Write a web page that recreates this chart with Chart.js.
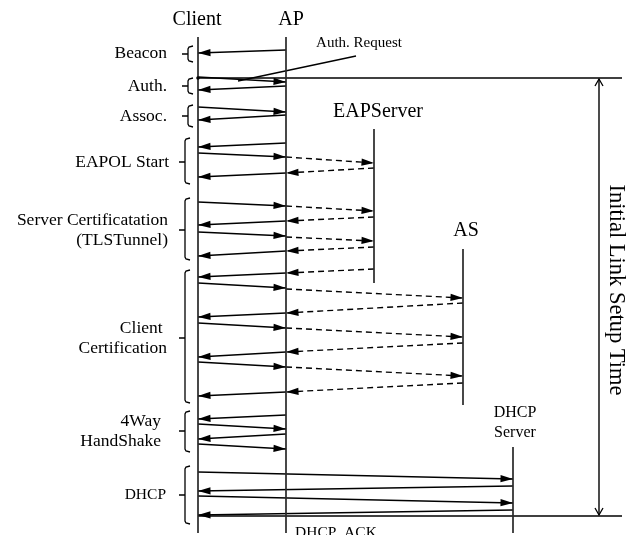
<!DOCTYPE html>
<html>
<head>
<meta charset="utf-8">
<script src="https://cdn.jsdelivr.net/npm/chart.js@4/dist/chart.umd.min.js"></script>
<style>
  html, body { margin: 0; padding: 0; background: #fff; }
  canvas { display: block; }
</style>
</head>
<body>
<canvas id="seq" width="633" height="535"></canvas>
<script>
// lifelines (x = column, start/end = time span)
const laneNames = ["Client", "AP", "EAPServer", "AS", "DHCP\nServer"]
const laneX = [198, 286, 374, 463, 513]
const laneStart = [37, 37, 129, 249, 447]
const laneEnd = [533, 533, 283, 405, 533]

// messages: from lane, to lane, send time, receive time, dashed
const msgFrom = [1, 0, 1, 0, 1, 1, 0, 1, 2, 1, 0, 1, 2, 1, 0, 1, 2, 1, 2, 1, 0, 1, 3, 1, 0, 1, 3, 1, 0, 1, 3, 1, 1, 0, 1, 0, 0, 4, 0, 4]
const msgTo = [0, 1, 0, 1, 0, 0, 1, 2, 1, 0, 1, 2, 1, 0, 1, 2, 1, 0, 1, 0, 1, 3, 1, 0, 1, 3, 1, 0, 1, 3, 1, 0, 0, 1, 0, 1, 4, 0, 4, 0]
const msgSent = [50, 77, 86, 107, 115, 143, 153, 157, 168, 173, 202, 206, 217, 221, 232, 237, 247, 251, 269, 273, 283, 289, 303, 313, 323, 328, 343, 352, 362, 367, 383, 392, 415, 424, 434, 444, 472, 486, 496, 510]
const msgRecv = [53, 82, 90, 112, 120, 147, 157, 163, 173, 177, 206, 211, 221, 225, 236, 241, 251, 256, 273, 277, 288, 298, 313, 317, 328, 337, 352, 357, 367, 376, 392, 396, 419, 429, 439, 449, 479, 491, 503, 515]
const msgDashed = [0, 0, 0, 0, 0, 0, 0, 1, 1, 0, 0, 1, 1, 0, 0, 1, 1, 0, 1, 0, 0, 1, 1, 0, 0, 1, 1, 0, 0, 1, 1, 0, 0, 0, 0, 0, 0, 0, 0, 0]

// phases (brackets on the left)
const phaseNames = [["Beacon"], ["Auth."], ["Assoc."], ["EAPOL Start"], ["Server Certificatation", "(TLSTunnel)"], ["Client ", "Certification"], ["4Way", "HandShake"], ["DHCP"]]
const phaseStart = [46, 78, 105, 138, 198, 270, 411, 466]
const phaseEnd = [62, 94, 127, 184, 260, 403, 452, 524]
const phaseMid = [54, 86, 116, 162, 230, 338, 431, 495]

// setup time span
const setupStart = 78
const setupEnd = 516

const SERIF = '"Liberation Serif", "DejaVu Serif", serif'
const INK = "#000"

const datasets = []

laneX.forEach((x, i) => {
  datasets.push({
    data: [{ x: x, y: laneStart[i] }, { x: x, y: laneEnd[i] }],
    borderColor: "#2a2a2a", borderWidth: 1.7, pointRadius: 0, showLine: true, arrow: false,
  })
})

msgFrom.forEach((f, i) => {
  datasets.push({
    data: [{ x: laneX[f], y: msgSent[i] }, { x: laneX[msgTo[i]], y: msgRecv[i] }],
    borderColor: INK, borderWidth: 1.4, pointRadius: 0, showLine: true,
    borderDash: msgDashed[i] ? [6, 4] : [], arrow: true,
  })
})

// brackets
phaseStart.forEach((top, i) => {
  const small = i < 3
  const vx = small ? 188 : 185
  const bot = phaseEnd[i]
  const mid = phaseMid[i]
  datasets.push({
    data: [
      { x: vx + 5, y: top }, { x: vx + 1, y: top + 1 }, { x: vx, y: top + 3 },
      { x: vx, y: mid }, { x: vx - 6, y: mid }, { x: vx, y: mid },
      { x: vx, y: bot - 3 }, { x: vx + 1, y: bot - 1 }, { x: vx + 5, y: bot },
    ],
    borderColor: INK, borderWidth: 1.3, pointRadius: 0, showLine: true, arrow: false,
  })
})

// setup-time boundaries, pointer and span
datasets.push({
  data: [{ x: laneX[0], y: setupStart }, { x: 622, y: setupStart }],
  borderColor: INK, borderWidth: 1.4, pointRadius: 0, showLine: true, arrow: false,
})
datasets.push({
  data: [{ x: laneX[0], y: setupEnd }, { x: 622, y: setupEnd }],
  borderColor: INK, borderWidth: 1.4, pointRadius: 0, showLine: true, arrow: false,
})
datasets.push({
  data: [{ x: 238, y: 81 }, { x: 356, y: 56 }],
  borderColor: INK, borderWidth: 1.3, pointRadius: 0, showLine: true, arrow: false,
})
datasets.push({
  data: [{ x: 599, y: setupStart + 1 }, { x: 599, y: setupEnd - 1 }],
  borderColor: INK, borderWidth: 1.4, pointRadius: 0, showLine: true, arrow: false, span: true,
})

const decorPlugin = {
  id: "decor",
  afterDatasetsDraw(chart) {
    const ctx = chart.ctx
    const xs = chart.scales.x
    const ys = chart.scales.y
    ctx.save()
    ctx.fillStyle = INK
    ctx.strokeStyle = INK

    chart.data.datasets.forEach((ds, i) => {
      const pts = chart.getDatasetMeta(i).data
      if (ds.arrow) {
        const a = pts[0], b = pts[pts.length - 1]
        const ang = Math.atan2(b.y - a.y, b.x - a.x)
        ctx.save()
        ctx.translate(b.x, b.y)
        ctx.rotate(ang)
        ctx.beginPath()
        ctx.moveTo(0, 0)
        ctx.lineTo(-12.5, -3.6)
        ctx.lineTo(-12.5, 3.6)
        ctx.closePath()
        ctx.fill()
        ctx.restore()
      }
      if (ds.span) {
        ctx.lineWidth = 1.3
        const a = pts[0], b = pts[1]
        ctx.beginPath()
        ctx.moveTo(a.x - 4, a.y + 7); ctx.lineTo(a.x, a.y); ctx.lineTo(a.x + 4, a.y + 7)
        ctx.moveTo(b.x - 4, b.y - 7); ctx.lineTo(b.x, b.y); ctx.lineTo(b.x + 4, b.y - 7)
        ctx.stroke()
      }
    })

    // dot where auth request starts
    ctx.beginPath()
    ctx.arc(xs.getPixelForValue(laneX[0]), ys.getPixelForValue(setupStart), 1.8, 0, Math.PI * 2)
    ctx.fill()

    // lifeline headers
    ctx.textAlign = "center"
    ctx.textBaseline = "middle"
    const headY = [20, 20, 112, 231, 413]
    const headSize = [20, 20, 20, 20, 16]
    const headDx = [-1, 5, 4, 3, 2]
    laneNames.forEach((name, i) => {
      ctx.font = headSize[i] + "px " + SERIF
      name.split("\n").forEach((line, k) => {
        ctx.fillText(line, xs.getPixelForValue(laneX[i] + headDx[i]), ys.getPixelForValue(headY[i] + k * 20))
      })
    })

    // phase labels
    ctx.textAlign = "right"
    const labelRight = [167, 167, 167, 169, 168, 167, 161, 166]
    phaseNames.forEach((lines, i) => {
      ctx.font = (i === 7 ? 15.5 : 17.5) + "px " + SERIF
      const n = lines.length
      lines.forEach((line, k) => {
        const y = phaseMid[i] + (k - (n - 1) / 2) * 20 - (i === 0 ? 1 : 0)
        ctx.fillText(line, xs.getPixelForValue(labelRight[i]), ys.getPixelForValue(y))
      })
    })

    // annotations
    ctx.textAlign = "center"
    ctx.font = "15px " + SERIF
    ctx.fillText("Auth. Request", xs.getPixelForValue(359), ys.getPixelForValue(43))
    ctx.textAlign = "left"
    ctx.textBaseline = "alphabetic"
    ctx.font = "15.5px " + SERIF
    ctx.fillText("DHCP  ACK", xs.getPixelForValue(295), ys.getPixelForValue(537))

    ctx.save()
    ctx.translate(xs.getPixelForValue(616), ys.getPixelForValue(290))
    ctx.rotate(Math.PI / 2)
    ctx.textAlign = "center"
    ctx.textBaseline = "middle"
    ctx.font = "22.5px " + SERIF
    ctx.fillText("Initial Link Setup Time", 0, 0)
    ctx.restore()

    ctx.restore()
  },
}

new Chart(document.getElementById("seq"), {
  type: "scatter",
  data: { datasets: datasets },
  options: {
    responsive: false,
    animation: false,
    devicePixelRatio: 1,
    layout: { padding: 0 },
    elements: { line: { tension: 0 } },
    plugins: { legend: { display: false }, tooltip: { enabled: false } },
    scales: {
      x: { type: "linear", min: 0, max: 633, display: false },
      y: { type: "linear", min: 0, max: 535, reverse: true, display: false },
    },
  },
  plugins: [decorPlugin],
})
</script>
</body>
</html>
